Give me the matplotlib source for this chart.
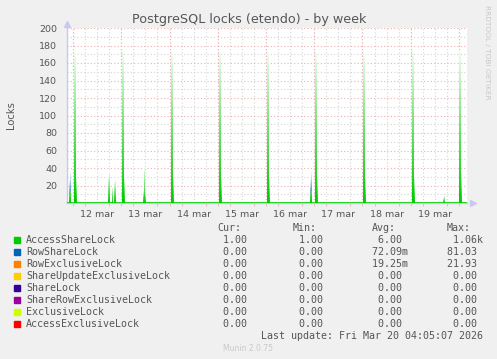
import numpy as np
import pandas as pd
import matplotlib
matplotlib.use('Agg')
import matplotlib.pyplot as plt
import matplotlib.dates as mdates
from matplotlib.ticker import FixedLocator, MultipleLocator, FuncFormatter
from matplotlib.patches import Rectangle

# ---------------- data ----------------
t_start = '2026-03-11 21:00'
t_end = '2026-03-20 04:00'

# AccessShareLock sits at 1 and spikes shortly after midnight every day
access_times = ['2026-03-11 22:00', '2026-03-11 22:30',
                '2026-03-12 00:30', '2026-03-12 01:00', '2026-03-12 01:30',
                '2026-03-12 17:30', '2026-03-12 18:00', '2026-03-12 19:30',
                '2026-03-12 20:30', '2026-03-12 21:00',
                '2026-03-13 00:30', '2026-03-13 01:00', '2026-03-13 01:30',
                '2026-03-13 11:00', '2026-03-13 11:30', '2026-03-13 12:00',
                '2026-03-14 00:30', '2026-03-14 01:00', '2026-03-14 01:30',
                '2026-03-15 00:30', '2026-03-15 01:00', '2026-03-15 01:30',
                '2026-03-16 00:30', '2026-03-16 01:00', '2026-03-16 01:30',
                '2026-03-16 22:00', '2026-03-16 22:30',
                '2026-03-17 00:30', '2026-03-17 01:00', '2026-03-17 01:30',
                '2026-03-18 00:30', '2026-03-18 01:00', '2026-03-18 01:30',
                '2026-03-19 00:30', '2026-03-19 01:00', '2026-03-19 01:30',
                '2026-03-19 16:00', '2026-03-19 16:30',
                '2026-03-20 00:00', '2026-03-20 00:30', '2026-03-20 01:00']
access_vals = [10, 14,
               175, 172, 30,
               30, 36, 18,
               24, 26,
               175, 172, 30,
               14, 41, 12,
               175, 172, 30,
               175, 172, 30,
               175, 172, 30,
               12, 14,
               175, 172, 30,
               175, 172, 30,
               175, 172, 30,
               6, 8,
               175, 172, 35]
access_base = 1.0

rowshare_times = ['2026-03-11 22:00', '2026-03-11 22:30',
                  '2026-03-16 22:00', '2026-03-16 22:30']
rowshare_vals = [15, 21, 14, 21]

# legend table
lock_names = ['AccessShareLock', 'RowShareLock', 'RowExclusiveLock',
              'ShareUpdateExclusiveLock', 'ShareLock', 'ShareRowExclusiveLock',
              'ExclusiveLock', 'AccessExclusiveLock']
lock_colors = ['#00CC00', '#0066B3', '#FF8000', '#FFCC00',
               '#330099', '#990099', '#CCFF00', '#FF0000']
cur_vals = [1.00, 0, 0, 0, 0, 0, 0, 0]
min_vals = [1.00, 0, 0, 0, 0, 0, 0, 0]
avg_vals = [6.00, 0.07209, 0.01925, 0, 0, 0, 0, 0]
max_vals = [1060, 81.03, 21.93, 0, 0, 0, 0, 0]

W, H = 497, 359


def fx(px):
    return px / W


def fy(py):
    return 1 - py / H


def si(v):
    # rrdtool style "%6.2lf%s"
    if v >= 1000:
        return '%6.2f%s' % (v / 1000, 'k')
    if 0 < v < 1:
        return '%6.2f%s' % (v * 1000, 'm')
    return '%6.2f ' % v


# ---------------- series on the 30 min grid ----------------
start = pd.Timestamp(t_start)
end = pd.Timestamp(t_end)
times = pd.date_range(start, end - pd.Timedelta('30min'), freq='30min')
access = np.full(len(times), access_base)
for t, v in zip(access_times, access_vals):
    access[times.get_loc(pd.Timestamp(t))] = v
rowshare = np.zeros(len(times))
for t, v in zip(rowshare_times, rowshare_vals):
    rowshare[times.get_loc(pd.Timestamp(t))] = v

# gradient fill image (colour fades to white towards each spike's top)
nrows = 400
ymax = 200
yc = (np.arange(nrows) + 0.5) * ymax / nrows
green = np.array(matplotlib.colors.to_rgb(lock_colors[0]))
blue = np.array(matplotlib.colors.to_rgb(lock_colors[1]))
img = np.zeros((nrows, len(times), 4))
for j in range(len(times)):
    a = access[j]
    tot = min(a + rowshare[j], ymax)
    f = np.clip(yc / max(tot, 4), 0, 1)[:, None] ** 1.1 * 0.95
    col = np.where((yc < a)[:, None], green, blue)
    img[:, j, :3] = col * (1 - f) + f
    img[:, j, 3] = (yc < tot).astype(float)

# ---------------- figure ----------------
fig = plt.figure(figsize=(W / 100, H / 100), dpi=100, facecolor='#f0f0f0')
ax = fig.add_axes([fx(67), fy(203), (467 - 67) / W, (203 - 28) / H])
ax.set_facecolor('white')

x0 = mdates.date2num(start)
x1 = mdates.date2num(end)
ax.imshow(img, extent=[x0, x1, 0, ymax], origin='lower', aspect='auto',
          interpolation='nearest', zorder=1)
ax.set_xlim(x0, x1)
ax.set_ylim(0, ymax)

ax.xaxis.set_major_locator(mdates.HourLocator(byhour=12))
ax.xaxis.set_major_formatter(FuncFormatter(
    lambda x, pos: mdates.num2date(x).strftime('%d %b').lower()))
ax.xaxis.set_minor_locator(mdates.HourLocator(byhour=[0, 6, 18]))
ax.yaxis.set_major_locator(FixedLocator(range(20, 201, 20)))
ax.yaxis.set_minor_locator(MultipleLocator(10))

dot = (0, (1, 2))
grey = '#d4d4d4'
pink = '#eeb0b0'
ax.set_axisbelow(True)
ax.grid(True, axis='x', which='both', color=grey, linestyle=dot, lw=0.8)
ax.grid(True, axis='y', which='minor', color=grey, linestyle=dot, lw=0.8)
ax.grid(True, axis='y', which='major', color=pink, linestyle=dot, lw=0.8)
for d in pd.date_range('2026-03-12', '2026-03-20', freq='D'):
    ax.axvline(mdates.date2num(d), color=pink, linestyle=dot, lw=0.8, zorder=0.6)

ax.tick_params(axis='both', which='major', length=0, labelsize=6.8, colors='#555555')
ax.tick_params(axis='x', which='major', pad=5)
ax.tick_params(axis='y', which='major', pad=7)
ax.tick_params(axis='x', which='minor', length=2, color=pink)
ax.tick_params(axis='y', which='minor', length=0)

for s in ['top', 'right']:
    ax.spines[s].set_visible(False)
for s in ['left', 'bottom']:
    ax.spines[s].set_color('#c8c8f0')
    ax.spines[s].set_linewidth(1)
    ax.spines[s].set_zorder(0.7)
ax.plot([0], [1 + 4 / 175], marker='^', ms=4, color='#c8c8f0',
        transform=ax.transAxes, clip_on=False)
ax.plot([1 + 6 / 400], [0], marker='>', ms=4, color='#c8c8f0',
        transform=ax.transAxes, clip_on=False)

# titles / side texts
fig.text(fx(249), fy(22.5), 'PostgreSQL locks (etendo) - by week', ha='center',
         va='baseline', fontsize=9.2, color='#555555')
fig.text(fx(11), fy(115), 'Locks', rotation=90, ha='center', va='center',
         fontsize=7.2, color='#555555')
fig.text(fx(487.5), fy(5), 'RRDTOOL / TOBI OETIKER', rotation=270, ha='center',
         va='top', fontsize=5.3, color='#c8c8c8')

# legend table
mono = 'DejaVu Sans Mono'
fs = 7.2
col_x = [211, 287, 366, 441]
for hdr, cx in zip(['Cur:', 'Min:', 'Avg:', 'Max:'], col_x):
    fig.text(fx(cx + 6), fy(231), hdr, ha='left', va='baseline',
             family=mono, fontsize=fs, color='#555555')
for i, name in enumerate(lock_names):
    base = 243 + 12 * i
    fig.patches.append(Rectangle((fx(14), fy(base - 0.5)), 6 / W, 6 / H,
                                 transform=fig.transFigure, color=lock_colors[i]))
    fig.text(fx(26), fy(base), name, ha='left', va='baseline',
             family=mono, fontsize=fs, color='#555555')
    for v, cx in zip([cur_vals[i], min_vals[i], avg_vals[i], max_vals[i]], col_x):
        fig.text(fx(cx), fy(base), si(v), ha='left', va='baseline',
                 family=mono, fontsize=fs, color='#555555')
fig.text(fx(483), fy(339), 'Last update: Fri Mar 20 04:05:07 2026', ha='right',
         va='baseline', family=mono, fontsize=fs, color='#555555')
fig.text(fx(248), fy(351), 'Munin 2.0.75', ha='center', va='baseline',
         fontsize=5.5, color='#c8c8c8')

fig.savefig('out.png', dpi=100, facecolor=fig.get_facecolor())
